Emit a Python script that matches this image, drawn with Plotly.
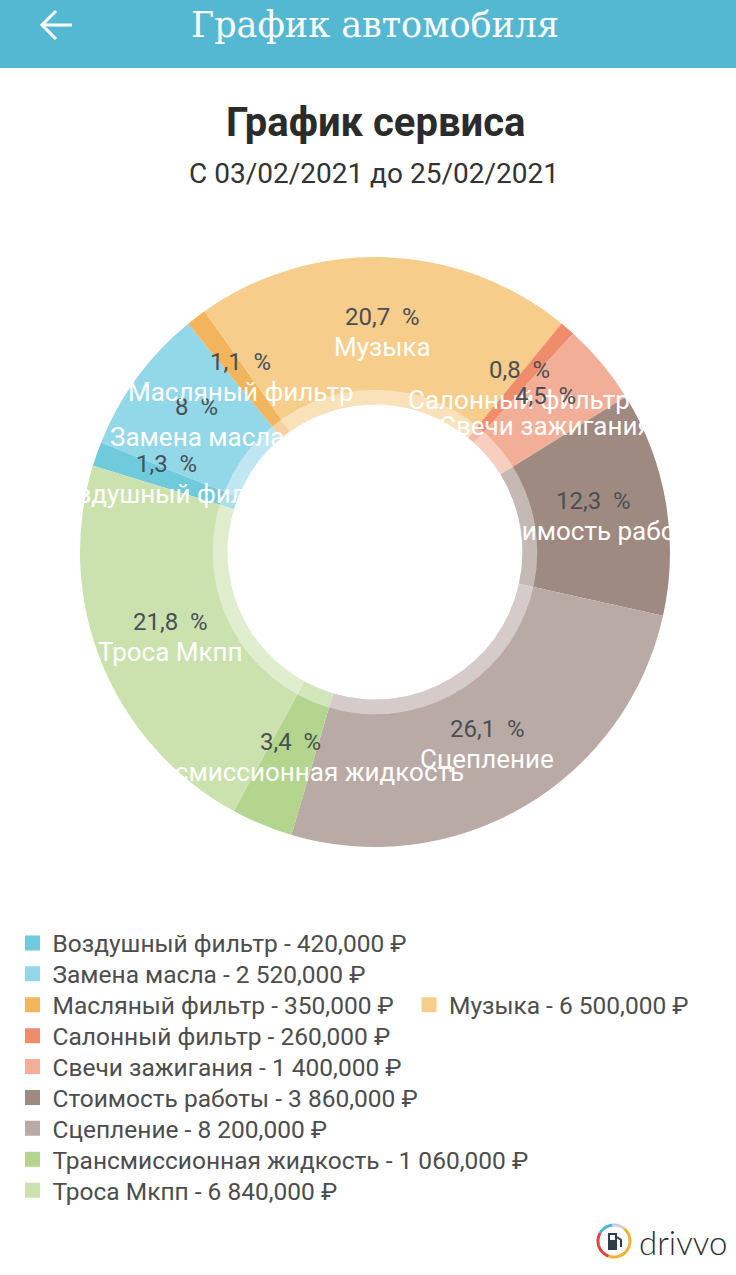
import math
import plotly.graph_objects as go

W, H = 736, 1275

# data
categories = ["Воздушный фильтр", "Замена масла", "Масляный фильтр", "Музыка", "Салонный фильтр",
              "Свечи зажигания", "Стоимость работы", "Сцепление", "Трансмиссионная жидкость", "Троса Мкпп"]
amounts = [420, 2520, 350, 6500, 260, 1400, 3860, 8200, 1060, 6840]
slice_colors = ["#6fcadc", "#93d8e8", "#f2b55e", "#f6cd8b", "#ef8c6c",
                "#f3ae97", "#9f8a81", "#b9aaa6", "#b3d58e", "#cbe2af"]

title = "График сервиса"
subtitle = "С 03/02/2021 до 25/02/2021"
header = "График автомобиля"

# which legend entries share a line (the legend wraps like on the phone)
legend_rows = [[0], [1], [2, 3], [4], [5], [6], [7], [8], [9]]


def money(v):
    s = f"{v:,.3f}"
    return s.replace(",", " ").replace(".", ",") + " ₽"


def pct(v, total):
    s = f"{v / total * 100:.1f}".replace(".", ",")
    if s.endswith(",0"):
        s = s[:-2]
    return s + "\u00a0\u00a0%"


# pixel -> paper helpers (margins are 0)
def px(x):
    return x / W


def py(y):
    return 1 - y / H


cx, cy, R = 375, 552, 295
hole = 0.5
ring = 0.55
rotation = 287


def dom(r):
    return dict(x=[px(cx - r), px(cx + r)], y=[py(cy + r), py(cy - r)])


total = sum(amounts)
legend_labels = [f"{c} - {money(v)}" for c, v in zip(categories, amounts)]

# label points at the middle of the ring
lab_r = (1 + hole) / 2
lx, ly = [], []
acc = 0
for v in amounts:
    a = math.radians(rotation + (acc + v / 2) / total * 360)
    lx.append(lab_r * math.sin(a))
    ly.append(lab_r * math.cos(a))
    acc += v

fig = go.Figure()

fig.add_trace(go.Pie(
    labels=categories, values=amounts, hole=hole, sort=False, direction="clockwise",
    rotation=rotation, marker=dict(colors=slice_colors, line=dict(width=0)),
    textinfo="none", textposition="none", hoverinfo="skip", domain=dom(R), showlegend=False,
))

# transparent circle around the hole
fig.add_trace(go.Pie(
    labels=[" "], values=[1], hole=hole / ring, sort=False, showlegend=False,
    marker=dict(colors=["rgba(255,255,255,0.4)"], line=dict(width=0)),
    textinfo="none", textposition="none", hoverinfo="skip", domain=dom(R * ring),
))

# invisible points so the helper axes exist
fig.add_trace(go.Scatter(x=lx, y=ly, mode="markers", marker=dict(opacity=0),
                         hoverinfo="skip", showlegend=False))

# legend entries, one small legend per entry
row_y0, row_step = 943, 30.9
col_x = [12.5, 409]
legends = {}
n = 0
for r, row in enumerate(legend_rows):
    for k, i in enumerate(row):
        name = "legend" if n == 0 else f"legend{n + 1}"
        n += 1
        legends[name] = dict(orientation="h", x=px(col_x[k]), y=py(row_y0 + r * row_step),
                             xanchor="left", yanchor="middle", bgcolor="rgba(0,0,0,0)",
                             font=dict(family="Roboto", size=24.5, color="#4d4d4d"))
        fig.add_trace(go.Scatter(
            x=[None], y=[None], mode="markers", name=legend_labels[i], legend=name,
            marker=dict(symbol="square", size=15, color=slice_colors[i]), hoverinfo="skip",
        ))

annotations = []
for x, y, c, v in zip(lx, ly, categories, amounts):
    annotations.append(dict(
        x=x, y=y, xref="x", yref="y", showarrow=False, xanchor="center", yanchor="bottom",
        yshift=-2, text=pct(v, total),
        font=dict(family="Roboto", size=24, color="#4a4f55"),
    ))
    annotations.append(dict(
        x=x, y=y, xref="x", yref="y", showarrow=False, xanchor="center", yanchor="top",
        yshift=1, text=c,
        font=dict(family="Roboto", size=26, color="#ffffff"),
    ))

annotations += [
    dict(x=px(375), y=py(25), xref="paper", yref="paper", showarrow=False, text=header,
         font=dict(family="DejaVu Serif", size=35, color="#ffffff"), xanchor="center", yanchor="middle"),
    dict(x=px(375), y=py(123), xref="paper", yref="paper", showarrow=False, text=f"<b>{title}</b>",
         font=dict(family="Roboto", size=40, color="#2b2b2b"), xanchor="center", yanchor="middle"),
    dict(x=px(374), y=py(173), xref="paper", yref="paper", showarrow=False, text=subtitle,
         font=dict(family="Roboto", size=28, color="#333333"), xanchor="center", yanchor="middle"),
    dict(x=px(637), y=py(1242), xref="paper", yref="paper", showarrow=False, text="drivvo",
         font=dict(family="Lato", size=33, color="#2a2f36", weight=300), xanchor="left", yanchor="middle"),
]


def arc(x0, y0, r, a0, a1, n=24):
    pts = []
    for i in range(n + 1):
        a = math.radians(a0 + (a1 - a0) * i / n)
        pts.append((x0 + r * math.sin(a), y0 - r * math.cos(a)))
    return "M" + " L".join(f"{px(x):.5f},{py(y):.5f}" for x, y in pts)


shapes = [
    dict(type="rect", xref="paper", yref="paper", x0=0, x1=1, y0=py(68), y1=1,
         fillcolor="#55b8d2", line=dict(width=0), layer="below"),
    # back arrow
    dict(type="line", xref="paper", yref="paper", x0=px(42), y0=py(25), x1=px(72), y1=py(25),
         line=dict(color="#ffffff", width=3)),
    dict(type="path", xref="paper", yref="paper",
         path=f"M{px(56)},{py(11)} L{px(42)},{py(25)} L{px(56)},{py(39)}",
         line=dict(color="#ffffff", width=3)),
]

# drivvo logo ring
lcx, lcy, lr = 614, 1241, 16
for a0, a1, col in [(40, 200, "#f2b234"), (200, 300, "#e0453a"), (300, 355, "#4bb4d8"), (355, 400, "#cfcfcf")]:
    shapes.append(dict(type="path", xref="paper", yref="paper", path=arc(lcx, lcy, lr, a0, a1),
                       line=dict(color=col, width=3)))
shapes += [
    dict(type="rect", xref="paper", yref="paper", x0=px(608), x1=px(617), y0=py(1250), y1=py(1233),
         fillcolor="#2e3c48", line=dict(width=0)),
    dict(type="rect", xref="paper", yref="paper", x0=px(610), x1=px(615), y0=py(1240), y1=py(1235),
         fillcolor="#ffffff", line=dict(width=0)),
    dict(type="path", xref="paper", yref="paper",
         path=f"M{px(617)},{py(1237)} L{px(621)},{py(1240)} L{px(621)},{py(1247)}",
         line=dict(color="#2e3c48", width=2)),
]

d = dom(R)
fig.update_layout(
    width=W, height=H, margin=dict(l=0, r=0, t=0, b=0),
    paper_bgcolor="#ffffff", plot_bgcolor="#ffffff",
    font=dict(family="Roboto"),
    xaxis=dict(domain=d["x"], range=[-1, 1], visible=False, fixedrange=True),
    yaxis=dict(domain=d["y"], range=[-1, 1], visible=False, fixedrange=True),
    showlegend=True,
    annotations=annotations,
    shapes=shapes,
    hovermode=False,
    **legends,
)

fig.write_html("out.html", config={"displayModeBar": False},
               post_script="document.body.style.margin='0';")
